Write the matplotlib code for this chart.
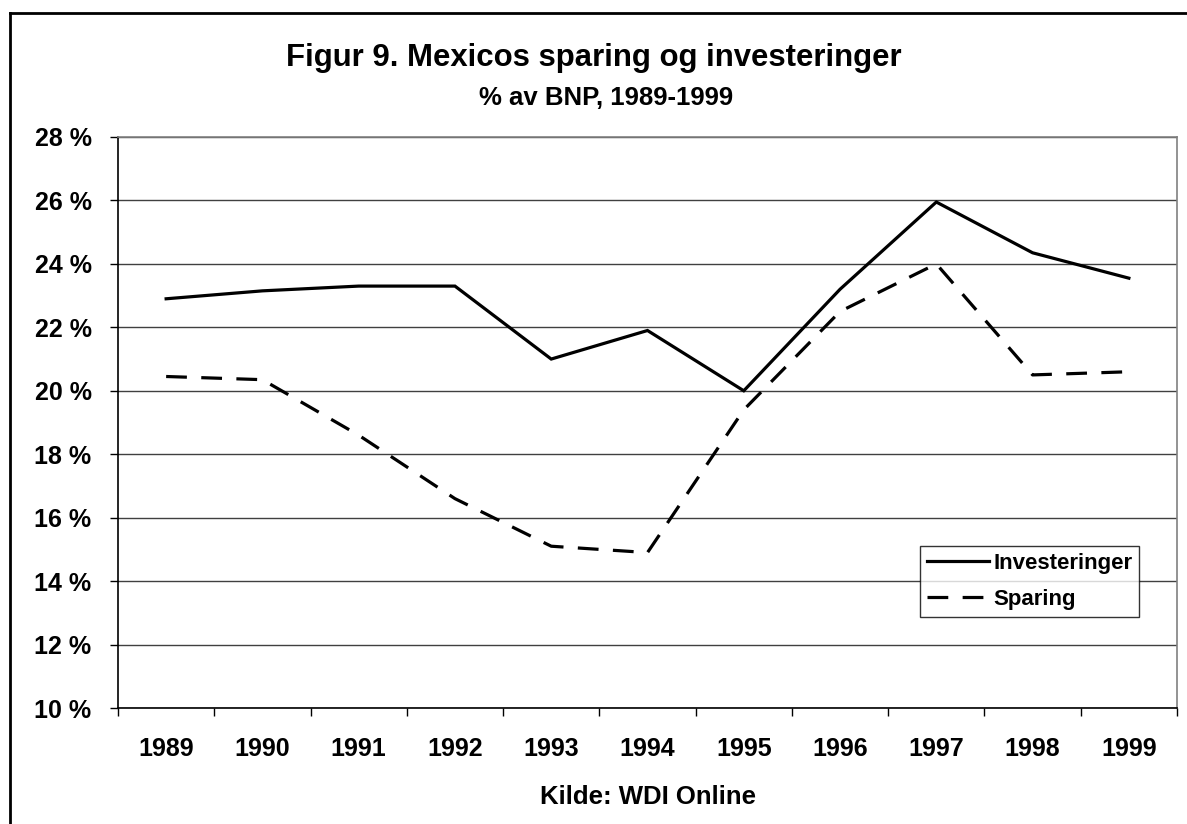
import matplotlib
matplotlib.use("Agg")
import matplotlib.pyplot as plt
from matplotlib.lines import Line2D
import numpy as np

years = ["1989", "1990", "1991", "1992", "1993", "1994", "1995", "1996", "1997", "1998", "1999"]
investeringer = [22.9, 23.15, 23.3, 23.3, 21.0, 21.9, 20.0, 23.2, 25.95, 24.35, 23.55]
sparing = [20.45, 20.35, 18.6, 16.6, 15.1, 14.9, 19.4, 22.5, 24.0, 20.5, 20.6]
y_ticks = [10, 12, 14, 16, 18, 20, 22, 24, 26, 28]

plt.rcParams['font.family'] = ['Liberation Sans', 'DejaVu Sans']
plt.rcParams['font.weight'] = 'bold'

W, H = 1187, 824
fig = plt.figure(figsize=(W / 100, H / 100), dpi=100)
fig.patch.set_facecolor('white')

# plot area in pixels: x 118..1177, y 137..708
ax = fig.add_axes([118 / W, 1 - 708 / H, (1177 - 118) / W, (708 - 137) / H])

x = np.arange(len(years))
ax.plot(x, investeringer, color='black', lw=2.3, solid_joinstyle='miter',
        label='Investeringer')
ax.plot(x, sparing, color='black', lw=2.3, dashes=(6.5, 4.5),
        label='Sparing')

ax.set_xlim(-0.5, len(years) - 0.5)
ax.set_ylim(10, 28)

ax.set_yticks(y_ticks)
ax.set_yticklabels([f"{v} %" for v in y_ticks], fontsize=18, fontweight='bold')
ax.yaxis.grid(True, color='#404040', lw=1.0)
ax.set_axisbelow(True)

# tick marks between categories, labels at centres
ax.set_xticks(np.arange(-0.5, len(years)), minor=False)
ax.set_xticklabels([])
ax.set_xticks(x, minor=True)
ax.set_xticklabels(years, minor=True, fontsize=18, fontweight='bold')
ax.tick_params(axis='x', which='major', direction='out', length=6, width=1, color='black')
ax.tick_params(axis='x', which='minor', length=0, pad=21)
ax.tick_params(axis='y', direction='out', length=6, width=1, color='black', pad=13)

for side in ['top', 'right']:
    ax.spines[side].set_color('#808080')
    ax.spines[side].set_linewidth(1.2)
for side in ['left', 'bottom']:
    ax.spines[side].set_color('black')
    ax.spines[side].set_linewidth(1.2)

leg = ax.legend(loc='upper left', bbox_to_anchor=((920 - 118) / 1059, (708 - 546) / 571),
                fontsize=16, frameon=True, fancybox=False, handlelength=2.8,
                handletextpad=0.2, labelspacing=0.7, borderpad=0.3, borderaxespad=0)
leg.get_frame().set_edgecolor('black')
leg.get_frame().set_linewidth(1.0)
for t in leg.get_texts():
    t.set_fontweight('bold')

fig.text(0.5, 1 - 58 / H, "Figur 9. Mexicos sparing og investeringer",
         ha='center', va='center', fontsize=22.4, fontweight='bold')
fig.text(606 / W, 1 - 98 / H, "% av BNP, 1989-1999",
         ha='center', va='center', fontsize=18.5, fontweight='bold')
fig.text((118 + 1177) / 2 / W, 1 - 797 / H, "Kilde: WDI Online",
         ha='center', va='center', fontsize=18.5, fontweight='bold')

# outer chart frame (only left and top edges fall inside the image)
fig.add_artist(Line2D([10 / W, 10 / W], [0, 1 - 13 / H], transform=fig.transFigure,
                      color='black', lw=2))
fig.add_artist(Line2D([10 / W, 1], [1 - 13 / H, 1 - 13 / H], transform=fig.transFigure,
                      color='black', lw=2))

fig.savefig("out.png", dpi=100)
